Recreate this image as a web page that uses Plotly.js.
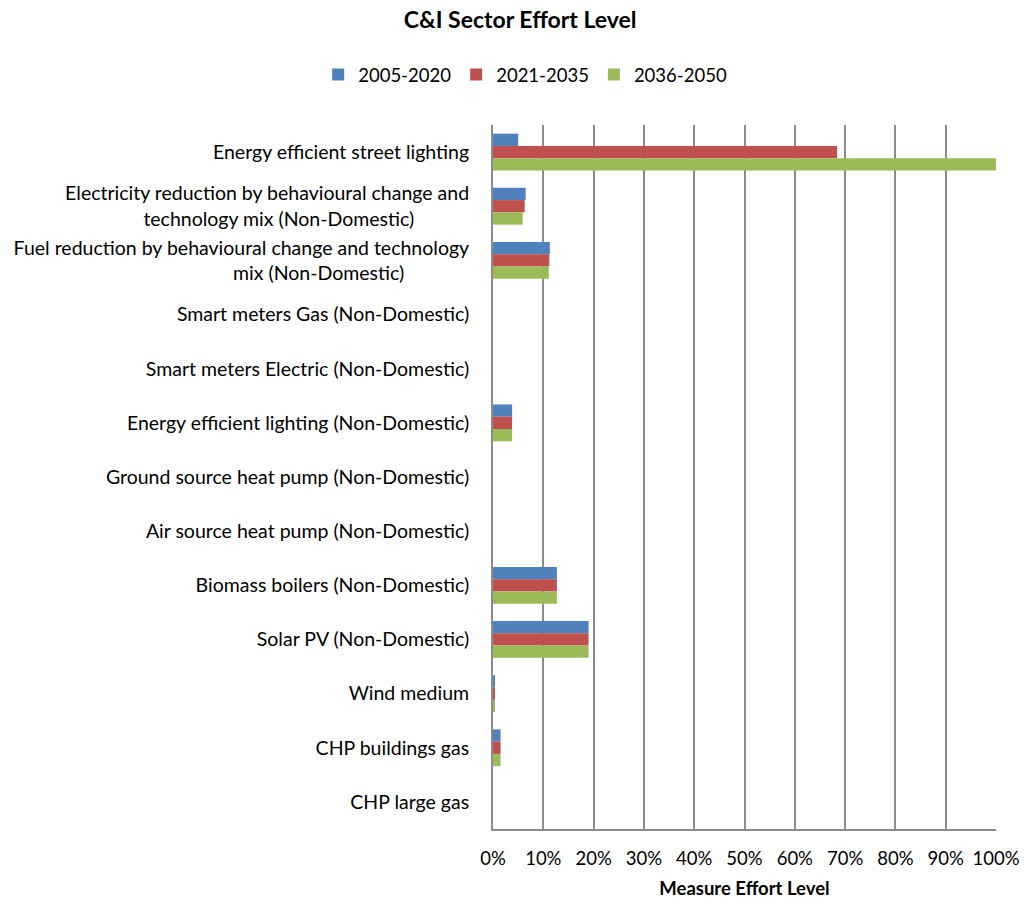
<!DOCTYPE html>
<html>
<head>
<meta charset="utf-8">
<script src="https://cdn.plot.ly/plotly-3.0.1.min.js"></script>
<style>html,body{margin:0;padding:0;background:#fff;}#chart{width:1024px;height:899px;}</style>
</head>
<body>
<div id="chart"></div>
<script>
const NB = "\u00a0";
const categories = [
  "Energy efficient street lighting",
  "Electricity reduction by behavioural change and<br>technology mix (Non-Domestic)" + NB.repeat(11),
  "Fuel reduction by behavioural change and technology<br>mix (Non-Domestic)" + NB.repeat(13),
  "Smart meters Gas (Non-Domestic)",
  "Smart meters Electric (Non-Domestic)",
  "Energy efficient lighting (Non-Domestic)",
  "Ground source heat pump (Non-Domestic)",
  "Air source heat pump (Non-Domestic)",
  "Biomass boilers (Non-Domestic)",
  "Solar PV (Non-Domestic)",
  "Wind medium",
  "CHP buildings gas",
  "CHP large gas"
];
const seriesNames = ["2005-2020", "2021-2035", "2036-2050"];
const values2005_2020 = [0.050, 0.065, 0.113, 0, 0, 0.038, 0, 0, 0.127, 0.190, 0.004, 0.015, 0];
const values2021_2035 = [0.684, 0.063, 0.112, 0, 0, 0.038, 0, 0, 0.127, 0.190, 0.004, 0.015, 0];
const values2036_2050 = [1.000, 0.059, 0.111, 0, 0, 0.038, 0, 0, 0.127, 0.190, 0.004, 0.015, 0];
const xTickVals = [0,0.1,0.2,0.3,0.4,0.5,0.6,0.7,0.8,0.9,1.0];
const xTickText = ["0%","10%","20%","30%","40%","50%","60%","70%","80%","90%","100%"];

const colors = ["#4F81BD", "#C0504D", "#9BBB59"];
const allValues = [values2005_2020, values2021_2035, values2036_2050];
const FONT = "Lato, 'Open Sans', sans-serif";

const traces = allValues.map((v, i) => ({
  type: "bar",
  orientation: "h",
  name: seriesNames[i],
  y: categories,
  x: v,
  marker: {color: colors[i]},
  hoverinfo: "x+y"
}));

const layout = {
  width: 1024,
  height: 899,
  paper_bgcolor: "#fff",
  plot_bgcolor: "#fff",
  font: {family: FONT, size: 18.5, color: "#000"},
  title: {text: "<b>C&I Sector Effort Level</b>", x: 0.508, xanchor: "center", y: 0.978, yanchor: "middle", font: {size: 23, family: FONT}},
  margin: {l: 493, r: 28, t: 125, b: 70},
  barmode: "group",
  bargap: 0.32,
  bargroupgap: 0,
  showlegend: true,
  legend: {orientation: "h", x: 0.064, xanchor: "center", y: 1.071, yanchor: "middle", traceorder: "normal", font: {size: 18.5}, itemwidth: 30},
  xaxis: {
    range: [0, 1],
    tickvals: xTickVals,
    ticktext: xTickText,
    tickfont: {size: 18.5},
    showgrid: true,
    gridcolor: "#8c8c8c",
    gridwidth: 2,
    showline: true,
    linecolor: "#8c8c8c",
    linewidth: 2,
    zeroline: false,
    ticks: "",
    ticklabelstandoff: 12,
    title: {text: "<b>Measure Effort Level</b>", font: {size: 18.5}, standoff: 14},
    fixedrange: true
  },
  yaxis: {
    autorange: "reversed",
    type: "category",
    tickfont: {size: 19.5},
    showgrid: false,
    showline: true,
    linecolor: "#8c8c8c",
    linewidth: 2,
    zeroline: false,
    ticks: "",
    ticklabelstandoff: 18,
    fixedrange: true
  }
};

Plotly.newPlot("chart", traces, layout, {displayModeBar: false, staticPlot: true});
</script>
</body>
</html>
